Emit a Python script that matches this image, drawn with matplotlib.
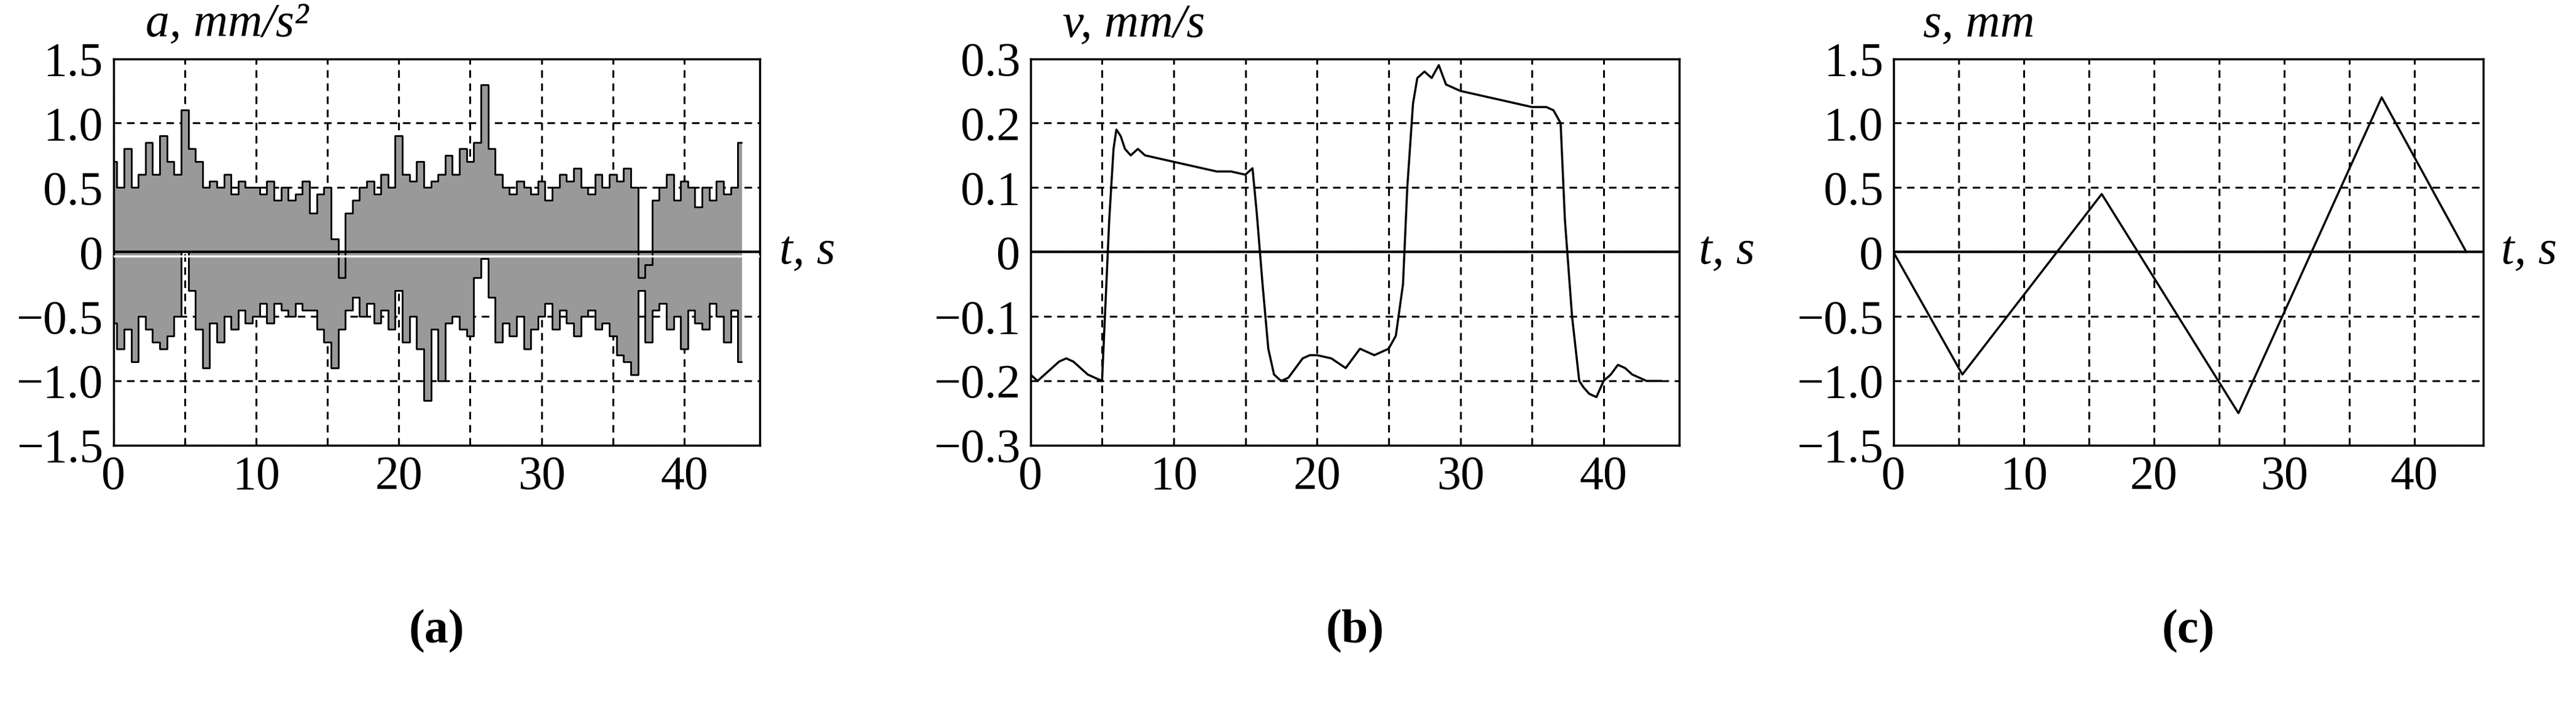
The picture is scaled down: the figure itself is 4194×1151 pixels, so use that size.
import numpy as np
import matplotlib.pyplot as plt

plt.rcParams['font.family'] = ['Liberation Serif', 'DejaVu Serif']

# ---- data ----
t_a = np.arange(0, 44.01, 0.5)
a_upper = [0.7, 0.5, 0.8, 0.5, 0.6, 0.85, 0.6, 0.9, 0.7, 0.6,
           1.1, 0.8, 0.7, 0.5, 0.55, 0.5, 0.6, 0.45, 0.55, 0.5,
           0.5, 0.45, 0.55, 0.4, 0.5, 0.4, 0.45, 0.55, 0.3, 0.45,
           0.5, 0.1, -0.2, 0.3, 0.4, 0.5, 0.55, 0.45, 0.6, 0.5,
           0.9, 0.6, 0.55, 0.7, 0.5, 0.55, 0.6, 0.75, 0.6, 0.8,
           0.7, 0.85, 1.3, 0.8, 0.6, 0.5, 0.45, 0.55, 0.5, 0.45,
           0.55, 0.4, 0.5, 0.6, 0.55, 0.65, 0.5, 0.45, 0.6, 0.5,
           0.6, 0.55, 0.65, 0.5, -0.2, -0.1, 0.4, 0.5, 0.6, 0.4,
           0.55, 0.5, 0.35, 0.5, 0.4, 0.55, 0.45, 0.5, 0.85]
a_lower = [-0.55, -0.75, -0.6, -0.85, -0.5, -0.6, -0.7, -0.75, -0.65, -0.5,
           0.0, -0.3, -0.6, -0.9, -0.55, -0.7, -0.5, -0.6, -0.45, -0.55,
           -0.5, -0.4, -0.55, -0.4, -0.45, -0.5, -0.4, -0.45, -0.45, -0.6,
           -0.7, -0.9, -0.6, -0.45, -0.35, -0.5, -0.4, -0.55, -0.45, -0.6,
           -0.3, -0.7, -0.5, -0.75, -1.15, -0.6, -1.0, -0.55, -0.5, -0.6,
           -0.65, -0.2, -0.05, -0.35, -0.7, -0.55, -0.65, -0.5, -0.75, -0.6,
           -0.5, -0.4, -0.6, -0.45, -0.55, -0.65, -0.5, -0.45, -0.6, -0.55,
           -0.65, -0.8, -0.85, -0.95, -0.3, -0.7, -0.45, -0.4, -0.6, -0.5,
           -0.75, -0.45, -0.55, -0.6, -0.4, -0.5, -0.7, -0.45, -0.85]

t_v = [0, 0.5, 1, 1.5, 2, 2.5, 3, 3.5, 4, 4.5, 5, 5.2, 5.5, 5.8, 6, 6.3, 6.6, 7, 7.5, 8,
       9, 10, 11, 12, 13, 14, 15, 15.5, 15.8, 16.2, 16.6, 17, 17.5, 18, 18.5, 19, 19.5,
       20, 21, 22, 23, 24, 25, 25.5, 26, 26.3, 26.7, 27, 27.5, 28, 28.5, 29, 30, 31, 32,
       33, 34, 35, 36, 36.5, 37, 37.3, 37.8, 38.3, 38.6, 39, 39.5, 40, 40.5, 41, 41.5,
       42, 42.5, 43, 43.5, 44]
v = [-0.19, -0.2, -0.19, -0.18, -0.17, -0.165, -0.17, -0.18, -0.19, -0.195, -0.2,
     -0.1, 0.05, 0.16, 0.19, 0.18, 0.16, 0.15, 0.16, 0.15,
     0.145, 0.14, 0.135, 0.13, 0.125, 0.125, 0.12, 0.13, 0.06, -0.05, -0.15, -0.19,
     -0.2, -0.195, -0.18, -0.165, -0.16,
     -0.16, -0.165, -0.18, -0.15, -0.16, -0.15, -0.13, -0.05, 0.1, 0.23, 0.27,
     0.28, 0.27, 0.29, 0.26, 0.25, 0.245, 0.24, 0.235, 0.23, 0.225, 0.225, 0.22,
     0.2, 0.05, -0.1, -0.2, -0.21, -0.22, -0.225, -0.2, -0.19, -0.175, -0.18,
     -0.19, -0.195, -0.2, -0.2, -0.2]

t_s = [0, 5.3, 16, 26.5, 37.5, 44]
s = [0, -0.95, 0.45, -1.25, 1.2, 0]

FS = 56
fig = plt.figure(figsize=(41.94, 11.51), dpi=100)
boxes = [[0.044, 0.37, 0.251, 0.547],
         [0.40, 0.37, 0.252, 0.547],
         [0.735, 0.37, 0.229, 0.547]]
ylims = [(-1.5, 1.5), (-0.3, 0.3), (-1.5, 1.5)]
yticks = [np.arange(-1.5, 1.51, 0.5), np.arange(-0.3, 0.31, 0.1), np.arange(-1.5, 1.51, 0.5)]
ylabels = ['a, mm/s²', 'v, mm/s', 's, mm']
letters = ['a', 'b', 'c']


def fmt(vals):
    out = []
    for x in vals:
        if abs(x) < 1e-9:
            out.append('0')
        else:
            out.append(('%.1f' % x).replace('-', '\u2212'))
    return out


axes = []
for i in range(3):
    ax = fig.add_axes(boxes[i])
    ax.set_xlim(0, 45.3)
    ax.set_ylim(*ylims[i])
    ax.set_xticks([0, 10, 20, 30, 40])
    ax.set_yticks(yticks[i])
    ax.set_yticklabels(fmt(yticks[i]))
    ax.set_xticks(np.arange(5, 45, 10), minor=True)
    ax.tick_params(which='both', length=0, labelsize=FS, pad=12)
    ax.grid(True, which='both', color='black', linestyle=(0, (4, 3)), linewidth=2.2)
    for sp in ax.spines.values():
        sp.set_linewidth(2.5)
    ax.axhline(0, color='black', linewidth=3, zorder=3)
    ax.text(0.05, 1.03, ylabels[i], transform=ax.transAxes, fontsize=FS,
            style='italic', ha='left', va='bottom')
    ax.text(1.03, 0.5, 't, s', transform=ax.transAxes, fontsize=FS,
            style='italic', ha='left', va='center')
    ax.text(0.5, -0.48, '(' + letters[i] + ')', transform=ax.transAxes, fontsize=FS,
            ha='center', va='center', fontweight='bold')
    axes.append(ax)

ax = axes[0]
ax.fill_between(t_a, 0, a_upper, step='mid', color='#999999', zorder=2)
ax.fill_between(t_a, 0, a_lower, step='mid', color='#999999', zorder=2)
ax.step(t_a, a_upper, where='mid', color='black', linewidth=2, zorder=2.5)
ax.step(t_a, a_lower, where='mid', color='black', linewidth=2, zorder=2.5)
ax.axhline(-0.03, color='white', linewidth=2.5, zorder=3.5)

axes[1].plot(t_v, v, color='black', linewidth=2.5, zorder=4)
axes[2].plot(t_s, s, color='black', linewidth=2.5, zorder=4)

fig.savefig('out.png', dpi=100, facecolor='white')
